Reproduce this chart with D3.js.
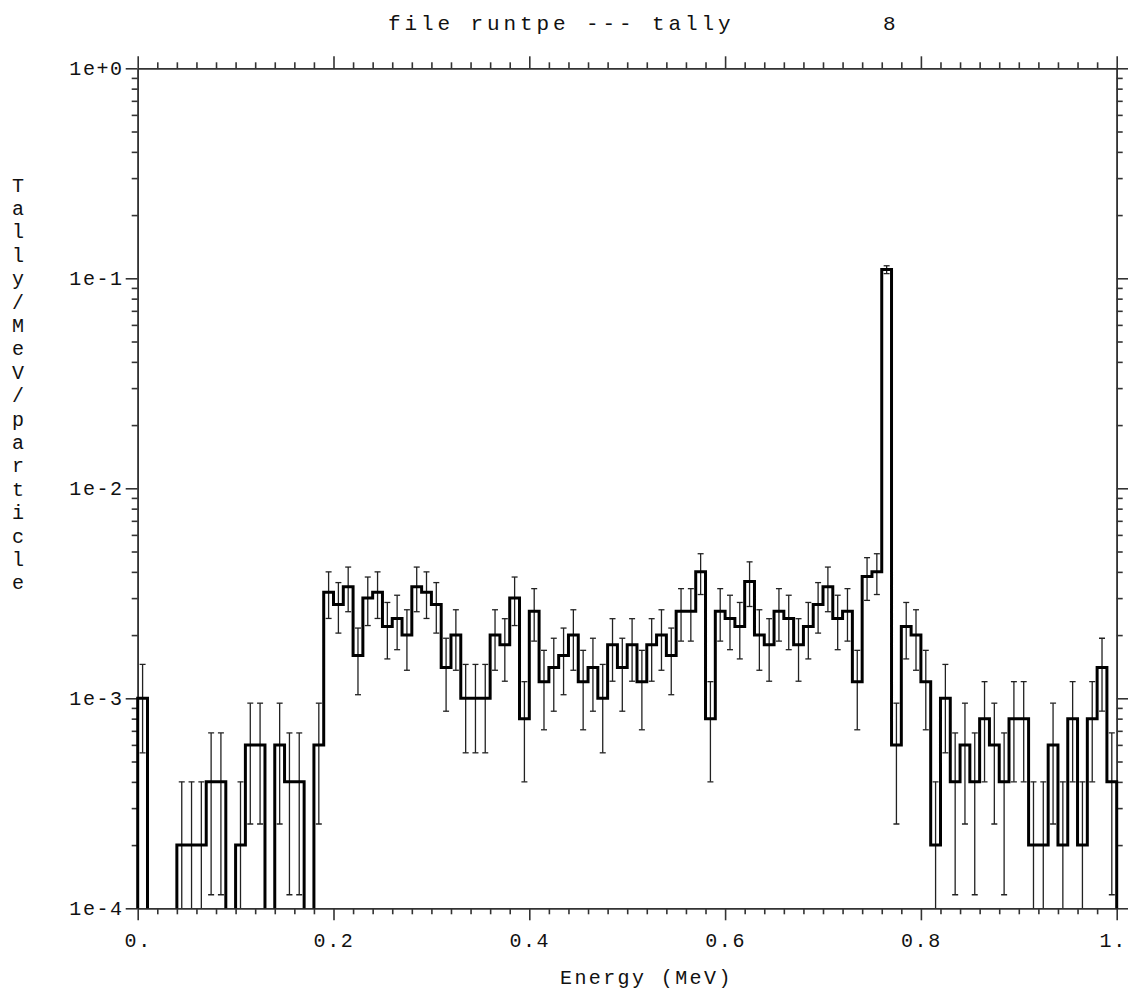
<!DOCTYPE html>
<html>
<head>
<meta charset="utf-8">
<script src="https://cdn.jsdelivr.net/npm/d3@7"></script>
<style>
body { margin: 0; background: #fff; }
text { font-family: "Liberation Mono", "DejaVu Sans Mono", monospace; fill: #111; }
.axis path, .axis line { stroke: #333; stroke-width: 1.6; }
</style>
</head>
<body>
<div id="chart"></div>
<script>
let svgWidth = 1128;
let svgHeight = 996;

// plot frame (pixel edges of the box)
let frame = { left: 137.7, right: 1116.7, top: 68.3, bottom: 908.3 };

// energy bin edges (MeV)
let energyBins = [
    0.00, 0.01, 0.02, 0.03, 0.04, 0.05, 0.06, 0.07, 0.08, 0.09,
    0.10, 0.11, 0.12, 0.13, 0.14, 0.15, 0.16, 0.17, 0.18, 0.19,
    0.20, 0.21, 0.22, 0.23, 0.24, 0.25, 0.26, 0.27, 0.28, 0.29,
    0.30, 0.31, 0.32, 0.33, 0.34, 0.35, 0.36, 0.37, 0.38, 0.39,
    0.40, 0.41, 0.42, 0.43, 0.44, 0.45, 0.46, 0.47, 0.48, 0.49,
    0.50, 0.51, 0.52, 0.53, 0.54, 0.55, 0.56, 0.57, 0.58, 0.59,
    0.60, 0.61, 0.62, 0.63, 0.64, 0.65, 0.66, 0.67, 0.68, 0.69,
    0.70, 0.71, 0.72, 0.73, 0.74, 0.75, 0.76, 0.77, 0.78, 0.79,
    0.80, 0.81, 0.82, 0.83, 0.84, 0.85, 0.86, 0.87, 0.88, 0.89,
    0.90, 0.91, 0.92, 0.93, 0.94, 0.95, 0.96, 0.97, 0.98, 0.99,
    1.00
];

// tally per MeV per particle, one value per bin
let tallyValues = [
    1.0e-3, 0,      0,      0,      2e-4,   2e-4,   2e-4,   4e-4,   4e-4,   0,
    2e-4,   6e-4,   6e-4,   0,      6e-4,   4e-4,   4e-4,   0,      6e-4,   3.2e-3,
    2.8e-3, 3.4e-3, 1.6e-3, 3.0e-3, 3.2e-3, 2.2e-3, 2.4e-3, 2.0e-3, 3.4e-3, 3.2e-3,
    2.8e-3, 1.4e-3, 2.0e-3, 1.0e-3, 1.0e-3, 1.0e-3, 2.0e-3, 1.8e-3, 3.0e-3, 8e-4,
    2.6e-3, 1.2e-3, 1.4e-3, 1.6e-3, 2.0e-3, 1.2e-3, 1.4e-3, 1.0e-3, 1.8e-3, 1.4e-3,
    1.8e-3, 1.2e-3, 1.8e-3, 2.0e-3, 1.6e-3, 2.6e-3, 2.6e-3, 4.0e-3, 8e-4,   2.6e-3,
    2.4e-3, 2.2e-3, 3.6e-3, 2.0e-3, 1.8e-3, 2.6e-3, 2.4e-3, 1.8e-3, 2.2e-3, 2.8e-3,
    3.4e-3, 2.4e-3, 2.6e-3, 1.2e-3, 3.8e-3, 4.0e-3, 0.11,   6e-4,   2.2e-3, 2.0e-3,
    1.2e-3, 2e-4,   1.0e-3, 4e-4,   6e-4,   4e-4,   8e-4,   6e-4,   4e-4,   8e-4,
    8e-4,   2e-4,   2e-4,   6e-4,   2e-4,   8e-4,   2e-4,   8e-4,   1.4e-3, 4e-4
];

// relative error of each bin
let relErrors = [
    0.45, 0,    0,    0,    1.00, 1.00, 1.00, 0.71, 0.71, 0,
    1.00, 0.58, 0.58, 0,    0.58, 0.71, 0.71, 0,    0.58, 0.25,
    0.27, 0.24, 0.35, 0.26, 0.25, 0.30, 0.29, 0.32, 0.24, 0.25,
    0.27, 0.38, 0.32, 0.45, 0.45, 0.45, 0.32, 0.33, 0.26, 0.50,
    0.28, 0.41, 0.38, 0.35, 0.32, 0.41, 0.38, 0.45, 0.33, 0.38,
    0.33, 0.41, 0.33, 0.32, 0.35, 0.28, 0.28, 0.22, 0.50, 0.28,
    0.29, 0.30, 0.24, 0.32, 0.33, 0.28, 0.29, 0.33, 0.30, 0.27,
    0.24, 0.29, 0.28, 0.41, 0.23, 0.22, 0.043, 0.58, 0.30, 0.32,
    0.41, 1.00, 0.45, 0.71, 0.58, 0.71, 0.50, 0.58, 0.71, 0.50,
    0.50, 1.00, 1.00, 0.58, 1.00, 0.50, 1.00, 0.50, 0.38, 0.71
];

// axis ticks and labels
let xMajorTicks = [0, 0.2, 0.4, 0.6, 0.8, 1.0];
let xTickLabels = ['0.', '0.2', '0.4', '0.6', '0.8', '1.'];
let yMajorTicks = [1e0, 1e-1, 1e-2, 1e-3, 1e-4];
let yTickLabels = ['1e+0', '1e-1', '1e-2', '1e-3', '1e-4'];

let titleText = 'file runtpe --- tally         8';
let xLabelText = 'Energy (MeV)';
let yLabelText = 'Tally/MeV/particle';

let svg = d3.select('#chart')
    .append('svg')
    .attr('width', svgWidth)
    .attr('height', svgHeight);

let xScale = d3.scaleLinear()
    .domain([0, 1])
    .range([frame.left, frame.right]);

let yScale = d3.scaleLog()
    .domain([1e-4, 1])
    .range([frame.bottom, frame.top]);

// zero bins fall just below the frame and get clipped away
function yPos(v) {
    return v > 0 ? yScale(v) : frame.bottom + 4;
}

svg.append('clipPath')
    .attr('id', 'plotClip')
    .append('rect')
    .attr('x', frame.left - 4)
    .attr('y', frame.top - 4)
    .attr('width', frame.right - frame.left + 8)
    .attr('height', frame.bottom - frame.top + 4);

// minor tick positions
let xMinorTicks = d3.range(0, 51).map(i => i * 0.02)
    .filter(d => Math.abs(d * 5 - Math.round(d * 5)) > 1e-6);
let yMinorTicks = [];
[1e-4, 1e-3, 1e-2, 1e-1].forEach(dec => {
    for (let m = 2; m <= 9; m++) yMinorTicks.push(dec * m);
});

function styleAxis(g) {
    g.attr('font-family', null).attr('font-size', null);
    g.selectAll('text')
        .style('font-size', '20px')
        .style('letter-spacing', '1.6px')
        .attr('fill', '#111');
}

// bottom axis
svg.append('g')
    .attr('class', 'axis')
    .attr('transform', `translate(0, ${frame.bottom})`)
    .call(d3.axisBottom(xScale).tickValues(xMinorTicks).tickSize(6).tickSizeOuter(0).tickFormat(''));
let xAxisMajor = svg.append('g')
    .attr('class', 'axis')
    .attr('transform', `translate(0, ${frame.bottom})`)
    .call(d3.axisBottom(xScale).tickValues(xMajorTicks).tickSize(12).tickSizeOuter(0)
        .tickPadding(13).tickFormat((d, i) => xTickLabels[i]))
    .call(styleAxis);

// keep the last label inside the page
xAxisMajor.selectAll('text')
    .filter((d, i) => i === xMajorTicks.length - 1)
    .attr('x', -4);

// top axis
svg.append('g')
    .attr('class', 'axis')
    .attr('transform', `translate(0, ${frame.top})`)
    .call(d3.axisTop(xScale).tickValues(xMinorTicks).tickSize(6).tickSizeOuter(0).tickFormat(''));
svg.append('g')
    .attr('class', 'axis')
    .attr('transform', `translate(0, ${frame.top})`)
    .call(d3.axisTop(xScale).tickValues(xMajorTicks).tickSize(12).tickSizeOuter(0).tickFormat(''));

// left axis
svg.append('g')
    .attr('class', 'axis')
    .attr('transform', `translate(${frame.left}, 0)`)
    .call(d3.axisLeft(yScale).tickValues(yMinorTicks).tickSize(6).tickSizeOuter(0).tickFormat(''));
svg.append('g')
    .attr('class', 'axis')
    .attr('transform', `translate(${frame.left}, 0)`)
    .call(d3.axisLeft(yScale).tickValues(yMajorTicks).tickSize(12).tickSizeOuter(0)
        .tickPadding(2).tickFormat((d, i) => yTickLabels[i]))
    .call(styleAxis);

// right axis
svg.append('g')
    .attr('class', 'axis')
    .attr('transform', `translate(${frame.right}, 0)`)
    .call(d3.axisRight(yScale).tickValues(yMinorTicks).tickSize(6).tickSizeOuter(0).tickFormat(''));
svg.append('g')
    .attr('class', 'axis')
    .attr('transform', `translate(${frame.right}, 0)`)
    .call(d3.axisRight(yScale).tickValues(yMajorTicks).tickSize(12).tickSizeOuter(0).tickFormat(''));

// bins table
let bins = tallyValues.map((v, i) => ({
    x0: energyBins[i],
    x1: energyBins[i + 1],
    value: v,
    err: relErrors[i]
}));

// error bars
let plotGroup = svg.append('g').attr('clip-path', 'url(#plotClip)');
let errGroup = plotGroup.append('g')
    .attr('stroke', '#222')
    .attr('stroke-width', 1.3);

bins.filter(d => d.value > 0).forEach(d => {
    let cx = xScale((d.x0 + d.x1) / 2);
    let hi = d.value * (1 + d.err);
    let lo = d.value * (1 - d.err);
    let yHi = yScale(hi);
    let yLo = lo > 1e-4 ? yScale(lo) : frame.bottom;
    errGroup.append('line')
        .attr('x1', cx).attr('x2', cx)
        .attr('y1', yHi).attr('y2', yLo);
    errGroup.append('line')
        .attr('x1', cx - 3).attr('x2', cx + 3)
        .attr('y1', yHi).attr('y2', yHi);
    if (lo > 1e-4) {
        errGroup.append('line')
            .attr('x1', cx - 3).attr('x2', cx + 3)
            .attr('y1', yLo).attr('y2', yLo);
    }
});

// histogram outline
let points = [[xScale(energyBins[0]), frame.bottom + 4]];
bins.forEach(d => {
    points.push([xScale(d.x0), yPos(d.value)]);
    points.push([xScale(d.x1), yPos(d.value)]);
});
points.push([xScale(energyBins[energyBins.length - 1]), frame.bottom + 4]);

plotGroup.append('path')
    .datum(points)
    .attr('d', d3.line())
    .attr('fill', 'none')
    .attr('stroke', '#000')
    .attr('stroke-width', 3)
    .attr('stroke-linejoin', 'miter');

// title
svg.append('text')
    .attr('x', 388)
    .attr('y', 30)
    .style('white-space', 'pre')
    .style('font-size', '21px')
    .style('letter-spacing', '3.9px')
    .text(titleText);

// x label
svg.append('text')
    .attr('x', 560)
    .attr('y', 984)
    .style('font-size', '20px')
    .style('letter-spacing', '2.4px')
    .text(xLabelText);

// y label, one letter per line
svg.append('g')
    .selectAll('text')
    .data(yLabelText.split(''))
    .enter()
    .append('text')
    .attr('x', 18)
    .attr('y', (d, i) => 186 + i * 23.4)
    .attr('text-anchor', 'middle')
    .attr('dominant-baseline', 'central')
    .style('font-size', '20px')
    .text(d => d);
</script>
</body>
</html>
